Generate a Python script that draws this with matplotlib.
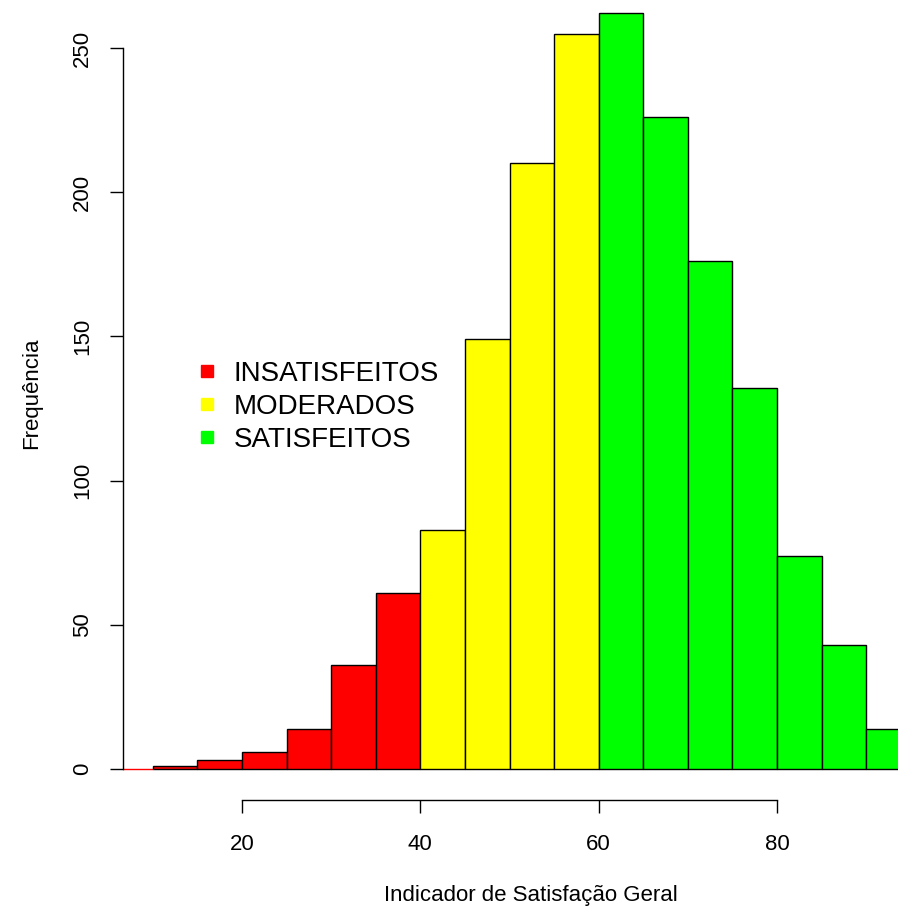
import matplotlib
matplotlib.use("Agg")
import matplotlib.pyplot as plt
from matplotlib.lines import Line2D

plt.rcParams['font.family'] = ['Liberation Sans', 'DejaVu Sans']

# Data
bin_left = [5, 10, 15, 20, 25, 30, 35, 40, 45, 50, 55, 60, 65, 70, 75, 80, 85, 90]
counts   = [0, 1, 3, 6, 14, 36, 61, 83, 149, 210, 255, 262, 226, 176, 132, 74, 43, 14]
groups   = ['INSATISFEITOS'] * 7 + ['MODERADOS'] * 4 + ['SATISFEITOS'] * 7
group_names = ['INSATISFEITOS', 'MODERADOS', 'SATISFEITOS']
group_colors = {'INSATISFEITOS': '#FF0000', 'MODERADOS': '#FFFF00', 'SATISFEITOS': '#00FF00'}
x_ticks = [20, 40, 60, 80]
y_ticks = [0, 50, 100, 150, 200, 250]
bin_width = 5

W, H = 898, 911
fig = plt.figure(figsize=(W / 100, H / 100), dpi=100)

# pixel geometry
x_left_px, x_right_px = 123, 898
y_top_px, y_bot_px = 0, 790
px20, px80 = 242, 777
ppu_x = (px80 - px20) / 60.0
py0, py250 = 769, 48
ppu_y = (py0 - py250) / 250.0

ax = fig.add_axes([x_left_px / W, 1 - y_bot_px / H,
                   (x_right_px - x_left_px) / W, (y_bot_px - y_top_px) / H])
ax.set_xlim(20 - (px20 - x_left_px) / ppu_x, 20 + (x_right_px - px20) / ppu_x)
ax.set_ylim(-(y_bot_px - py0) / ppu_y, (py0 - y_top_px) / ppu_y)

colors = [group_colors[g] for g in groups]
edges = ['black' if c > 0 else group_colors[g] for c, g in zip(counts, groups)]
ax.bar(bin_left, counts, width=bin_width, align='edge', color=colors,
       edgecolor=edges, linewidth=1.0)

for s in ['top', 'right']:
    ax.spines[s].set_visible(False)
ax.spines['left'].set_bounds(0, 250)
ax.spines['left'].set_linewidth(1.0)
ax.spines['bottom'].set_bounds(20, 80)
ax.spines['bottom'].set_position(('outward', 7.2))
ax.spines['bottom'].set_linewidth(1.0)

ax.set_xticks(x_ticks)
ax.set_xticklabels([str(t) for t in x_ticks])
ax.set_yticks(y_ticks)
ax.set_yticklabels([str(t) for t in y_ticks], rotation=90, va='center')
ax.tick_params(axis='both', length=9.5, width=1.0, labelsize=16, colors='black',
               direction='out')
ax.tick_params(axis='x', pad=15)
ax.tick_params(axis='y', pad=12)

fig.text(531 / W, 1 - 896 / H, 'Indicador de Satisfação Geral', fontsize=16,
         ha='center', va='center')
fig.text(32 / W, 1 - 393 / H, 'Frequência', fontsize=16, rotation=90,
         ha='center', va='center')

handles = [Line2D([0], [0], marker='s', linestyle='none', markersize=9,
                  markerfacecolor=group_colors[g], markeredgecolor=group_colors[g])
           for g in group_names]
leg = ax.legend(handles, group_names, loc='upper left', frameon=False, fontsize=20,
                bbox_to_anchor=(193 / W, 1 - 361 / H), bbox_transform=fig.transFigure,
                handletextpad=0.45, labelspacing=0.25, handlelength=1.0,
                borderaxespad=0, borderpad=0)

fig.savefig('out.png', dpi=100)
